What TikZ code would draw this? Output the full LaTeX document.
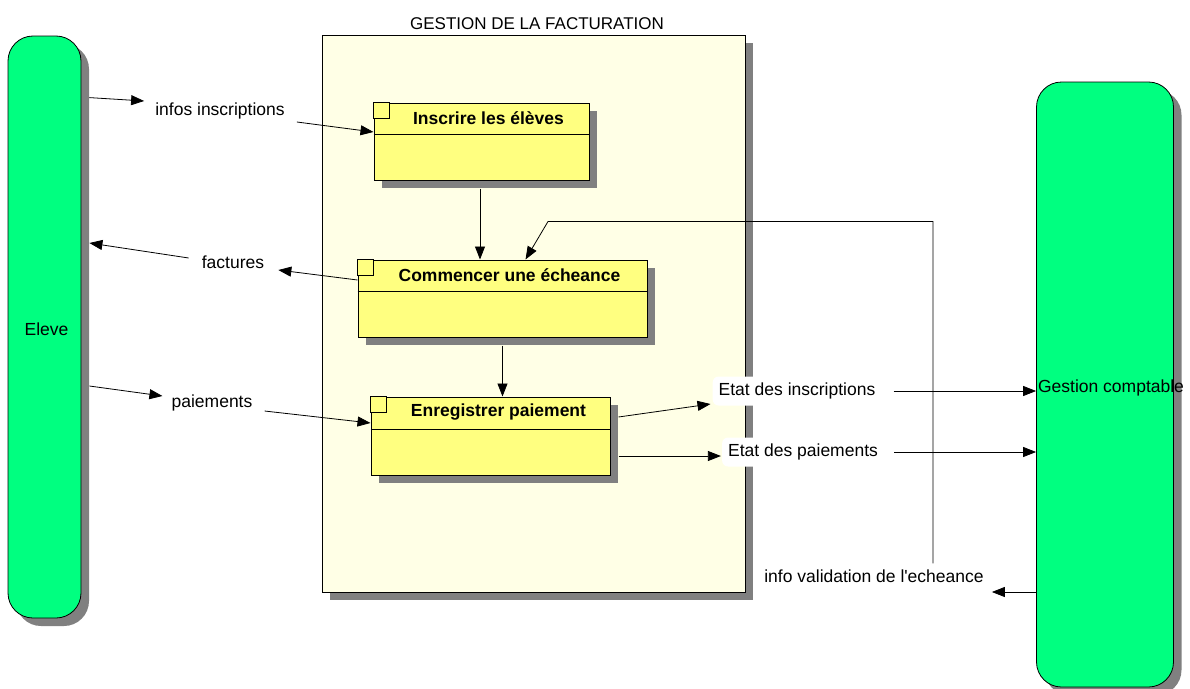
\documentclass[tikz,border=0pt]{standalone}
\usepackage{fontspec}
\setmainfont{Liberation Sans}
\usetikzlibrary{positioning, calc, shadows, arrows.meta}

\definecolor{vertact}{RGB}{0,255,128}
\definecolor{jauneproc}{RGB}{255,255,128}
\definecolor{jaunefond}{RGB}{255,255,230}
\definecolor{ombre}{RGB}{128,128,128}

\tikzset{
	ombrage/.style={drop shadow={shadow xshift=8pt, shadow yshift=-8pt, fill=ombre, opacity=1}},
	acteur/.style={draw, line width=0.8pt, fill=vertact, rounded corners=25pt, ombrage, inner sep=0pt},
	processus/.style={draw, line width=1pt, fill=jauneproc, ombrage, inner sep=0pt},
	titreproc/.style={font=\fontsize{17.5}{21}\selectfont\bfseries},
	flux/.style={fill=white, rounded corners=6pt, inner sep=6pt, text height=13pt, text depth=4pt},
	fleche/.style={-{Triangle[length=13pt,width=10pt]}, line width=0.8pt},
}

\begin{document}
\begin{tikzpicture}[x=1pt, y=-1pt, every node/.style={font=\fontsize{17.5}{21}\selectfont}]
	\useasboundingbox (0,0) rectangle (1190,688);

	\node[draw, line width=0.8pt, fill=jaunefond, ombrage, minimum width=423pt, minimum height=557pt, inner sep=0pt] (fact) at (533.5,313.5) {};
	\node (titre)[above=1pt of fact, xshift=3.5pt, font=\fontsize{17}{20}\selectfont]{GESTION DE LA FACTURATION};

	\node[acteur, minimum width=73pt, minimum height=582pt] (eleve) at (44.5,327) {};
	\node (eleveT) at ($(eleve.center)+(2,2)$) {Eleve};
	\node[acteur, minimum width=137pt, minimum height=605pt] (gc) at (1105,384.5) {};
	\node (gcT) at ($(gc.center)+(6,3)$) {Gestion comptable};

	\node[processus, minimum width=215pt, minimum height=77pt] (insc) at (481.5,141.5) {};
	\draw[line width=1pt] ($(insc.north west)+(0,32)$) -- ($(insc.north east)+(0,32)$);
	\draw[line width=1pt, fill=jauneproc] (insc.north west) rectangle ++(16,16);
	\node[titreproc] at ($(insc.north)+(7,16)$) {Inscrire les élèves};

	\node[processus, minimum width=289pt, minimum height=77pt] (comm) at (502.5,298.5) {};
	\draw[line width=1pt] ($(comm.north west)+(0,32)$) -- ($(comm.north east)+(0,32)$);
	\draw[line width=1pt, fill=jauneproc] (comm.north west) rectangle ++(16,16);
	\node[titreproc] at ($(comm.north)+(7,16)$) {Commencer une écheance};

	\node[processus, minimum width=239pt, minimum height=78pt] (enreg) at (490.5,436) {};
	\draw[line width=1pt] ($(enreg.north west)+(0,33)$) -- ($(enreg.north east)+(0,33)$);
	\draw[line width=1pt, fill=jauneproc] (enreg.north west) rectangle ++(16,16);
	\node[titreproc] at ($(enreg.north)+(8,16)$) {Enregistrer paiement};

	\node[flux] (infos) at (220,111) {infos inscriptions};
	\node[flux] (factures) at (233,264) {factures};
	\node[flux] (paiem) at (212,403) {paiements};
	\node[flux] (etatins) at (797,391) {Etat des inscriptions};
	\node[flux] (etatpai) at (803,452) {Etat des paiements};
	\node[flux] (valid) at (874,578) {info validation de l\textquotesingle echeance};

	\draw[fleche] ($(eleve.north east)+(8,62)$) -- ($(infos.west)+(-5,-10)$);
	\draw[fleche] ($(infos.east)+(6,11)$) -- ($(insc.west)+(0,-9.5)$);
	\draw[fleche] ($(insc.south)+(-1.5,8)$) -- ($(comm.north)+(-22.5,0)$);
	\draw[fleche] ($(comm.west)+(0,-18.5)$) -- ($(factures.east)+(8,6)$);
	\draw[fleche] ($(factures.west)+(-7,-6)$) -- ($(eleve.east)+(8,-84)$);
	\draw[fleche] ($(eleve.east)+(8,59)$) -- ($(paiem.west)+(-3,-7)$);
	\draw[fleche] ($(paiem.east)+(6,8)$) -- ($(enreg.west)+(0,-13)$);
	\draw[fleche] ($(comm.south)+(0,8)$) -- ($(enreg.north)+(12,0)$);
	\draw[fleche] ($(enreg.east)+(8,-19)$) -- ($(etatins.west)+(-2,13)$);
	\draw[fleche] ($(etatins.east)+(12,0)$) -- (gc.west |- etatins);
	\draw[fleche] ($(enreg.east)+(8,20)$) -- ($(etatpai.west)+(-1,4)$);
	\draw[fleche] ($(etatpai.east)+(10,0)$) -- (gc.west |- etatpai);
	\coordinate (vfleche) at ($(valid.east)+(2,14)$);
	\draw[fleche] (gc.west |- vfleche) -- (vfleche);
	\coordinate (vcoude) at ($(comm.north)+(45.5,-38)$);
	\draw[fleche] ($(valid.north)+(59,0)$) |- (vcoude) -- ($(comm.north)+(23,0)$);
\end{tikzpicture}
\end{document}
